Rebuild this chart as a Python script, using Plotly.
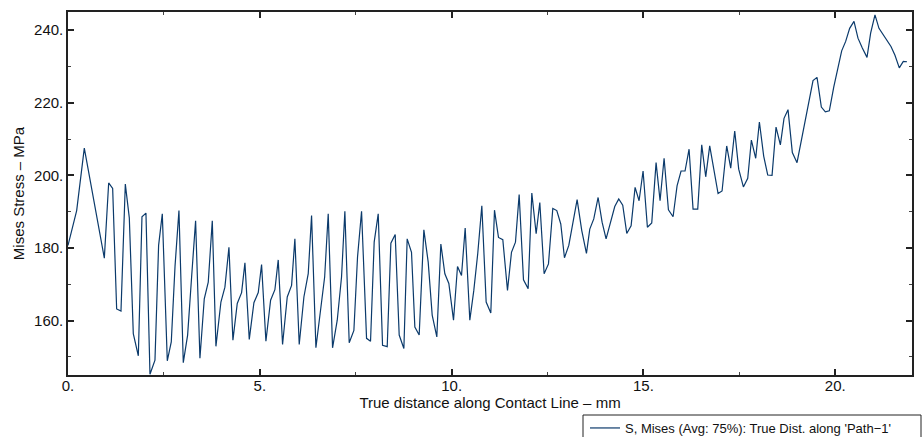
import plotly.graph_objects as go

# True distance along contact line (mm)
dist_mm = [
    0.00, 0.226, 0.425, 0.69, 0.947, 1.06, 1.164, 1.268, 1.381, 1.494, 1.598, 1.702, 1.833,
    1.928, 2.032, 2.137, 2.267, 2.362, 2.458, 2.588, 2.692, 2.79, 2.892, 3.005, 3.118, 3.222,
    3.326, 3.439, 3.552, 3.656, 3.761, 3.856, 3.986, 4.09, 4.195, 4.299, 4.412, 4.525, 4.612,
    4.725, 4.846, 4.959, 5.046, 5.159, 5.281, 5.393, 5.480, 5.593, 5.715, 5.828, 5.914, 6.027,
    6.149, 6.262, 6.349, 6.462, 6.58, 6.69, 6.783, 6.896, 7.018, 7.13, 7.217, 7.330, 7.452,
    7.547, 7.652, 7.782, 7.886, 7.981, 8.086, 8.199, 8.321, 8.416, 8.529, 8.633, 8.755, 8.841,
    8.954, 9.041, 9.154, 9.276, 9.389, 9.493, 9.614, 9.719, 9.823, 9.927, 10.049, 10.153,
    10.257, 10.353, 10.474, 10.578, 10.68, 10.787, 10.900, 11.021, 11.117, 11.221, 11.334,
    11.456, 11.560, 11.664, 11.760, 11.873, 11.994, 12.090, 12.203, 12.298, 12.411, 12.524,
    12.637, 12.741, 12.845, 12.941, 13.054, 13.16, 13.271, 13.392, 13.514, 13.601, 13.705,
    13.818, 13.922, 14.026, 14.139, 14.252, 14.356, 14.460, 14.565, 14.678, 14.782, 14.886,
    14.990, 15.103, 15.216, 15.329, 15.433, 15.538, 15.651, 15.772, 15.876, 15.980, 16.084,
    16.189, 16.293, 16.415, 16.519, 16.623, 16.727, 16.84, 16.945, 17.049, 17.170, 17.275,
    17.379, 17.483, 17.605, 17.718, 17.813, 17.926, 18.022, 18.134, 18.239, 18.352, 18.456,
    18.569, 18.664, 18.768, 18.881, 19.003, 19.11, 19.21, 19.316, 19.420, 19.524, 19.637,
    19.741, 19.845, 19.96, 20.06, 20.167, 20.271, 20.375, 20.488, 20.592, 20.705, 20.827,
    20.922, 21.035, 21.139, 21.243, 21.347, 21.452, 21.556, 21.669, 21.773, 21.869,
]

# Mises stress (MPa)
mises_mpa = [
    180.7, 190.3, 207.5, 192.0, 177.2, 197.9, 196.4, 163.2, 162.6, 197.6, 188.3, 156.4, 150.3,
    188.6, 189.6, 145.2, 149.1, 180.7, 189.4, 148.9, 154.1, 175.0, 190.3, 148.4, 156.0, 172.0,
    187.5, 149.6, 166.0, 170.6, 187.5, 152.9, 165.1, 169.2, 180.2, 154.6, 164.7, 167.7, 175.9,
    154.8, 164.9, 167.7, 175.4, 154.3, 165.6, 168.5, 176.7, 153.4, 166.5, 169.7, 182.5, 153.4,
    166.5, 172.9, 188.9, 152.5, 162.0, 172.0, 189.4, 152.5, 160.1, 172.0, 190.1, 153.9, 157.3,
    177.5, 190.1, 155.1, 154.3, 181.6, 189.4, 153.2, 152.8, 181.3, 183.7, 156.0, 152.3, 182.5,
    178.8, 158.2, 156.0, 185.0, 176.1, 161.5, 155.5, 181.1, 172.9, 170.2, 160.1, 174.9,
    172.4, 185.5, 160.1, 168.3, 178.4, 191.6, 165.1, 162.1, 190.4, 182.9, 182.3,
    168.3, 178.8, 181.6, 194.7, 171.2, 168.8, 195.1, 183.9, 192.5, 172.9, 175.6,
    190.9, 190.3, 186.6, 177.3, 180.7, 187.0, 193.3, 184.8, 178.5, 185.2, 188.0,
    193.9, 187.1, 182.5, 186.6, 191.4, 193.5, 191.8, 184.0, 186.1, 196.7, 193.0,
    201.2, 185.7, 186.9, 203.5, 193.0, 204.7, 190.5, 188.6, 197.1, 201.2, 201.2,
    207.2, 190.7, 190.7, 208.4, 199.6, 208.1, 201.0, 195.0, 195.7, 208.1, 202.0,
    212.2, 201.7, 196.8, 199.2, 209.7, 204.7, 214.7, 205.3, 200.1, 200.0, 213.3,
    208.4, 215.7, 218.1, 206.3, 203.5, 209.5, 215.4, 221.3, 226.1, 227.0, 218.8,
    217.5, 217.8, 224.3, 228.7, 234.3, 236.9, 240.5, 242.4, 237.8, 235.1, 232.5,
    239.2, 244.2, 240.5, 238.9, 237.4, 235.5, 233.1, 229.6, 231.4, 231.3,
]

x_tickvals = [0, 5, 10, 15, 20]
x_ticktext = ["0.", "5.", "10.", "15.", "20."]
y_tickvals = [160, 180, 200, 220, 240]
y_ticktext = ["160.", "180.", "200.", "220.", "240."]

series_name = "S, Mises (Avg: 75%): True Dist. along 'Path\u22121'"
x_title = "True distance along Contact Line \u2013 mm"
y_title = "Mises Stress \u2013 MPa"

FONT = "Liberation Sans, Arial, sans-serif"

fig = go.Figure()
fig.add_trace(go.Scatter(
    x=dist_mm, y=mises_mpa, mode="lines", name=series_name,
    line=dict(color="#0b3a6b", width=1.2),
))

axis_common = dict(
    showline=True, linecolor="#222222", linewidth=1.5, mirror="allticks",
    ticks="inside", ticklen=6, tickwidth=1.5, tickcolor="#222222",
    showgrid=False, zeroline=False,
    tickfont=dict(family=FONT, size=15, color="#111111"),
    title_font=dict(family=FONT, size=15, color="#111111"),
)

fig.update_xaxes(
    range=[0, 22], tickmode="array", tickvals=x_tickvals, ticktext=x_ticktext,
    minor=dict(ticks="inside", dtick=2.5, ticklen=3, tickcolor="#444444", tickwidth=1),
    title_text=x_title, title_standoff=0, ticklabelstandoff=-4,
    **axis_common,
)
fig.update_yaxes(
    range=[145, 245], tickmode="array", tickvals=y_tickvals, ticktext=y_ticktext,
    minor=dict(ticks="inside", dtick=10, ticklen=3, tickcolor="#444444", tickwidth=1),
    title_text=y_title, title_standoff=6,
    **axis_common,
)

# legend frame extending to the right edge
fig.add_shape(type="rect", xref="paper", yref="paper",
              x0=(583 - 68) / 844, x1=(921 - 68) / 844,
              y0=(375 - 460) / 363, y1=(375 - 415) / 363,
              line=dict(color="#222222", width=1), fillcolor="white", layer="below")

fig.update_layout(
    width=922, height=437,
    margin=dict(l=68, r=10, t=12, b=62, autoexpand=False),
    paper_bgcolor="white", plot_bgcolor="white",
    font=dict(family=FONT, size=15, color="#111111"),
    showlegend=True,
    legend=dict(
        x=(585 - 68) / 844, y=(375 - 413) / 363, xanchor="left", yanchor="top",
        bgcolor="rgba(0,0,0,0)", borderwidth=0,
        font=dict(family=FONT, size=13, color="#111111"),
    ),
)

fig.write_html("out.html")
